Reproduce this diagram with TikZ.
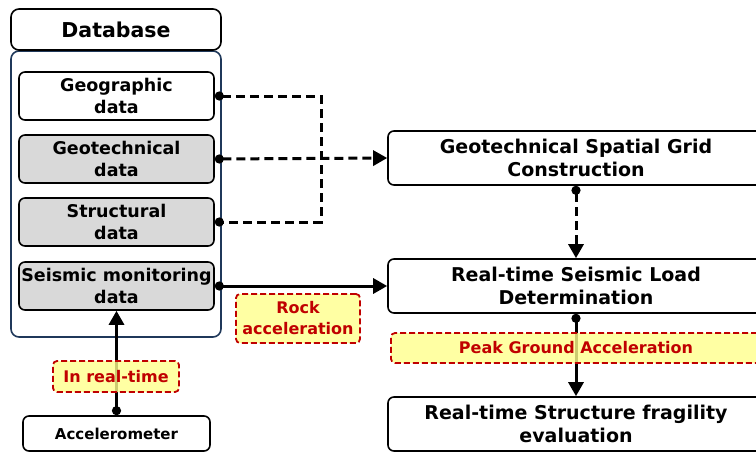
\documentclass[tikz,border=0pt]{standalone}
\usepackage{fontspec}
\setmainfont{DejaVu Sans}
\usetikzlibrary{positioning, arrows.meta}

\definecolor{navy}{RGB}{31,56,90}
\definecolor{cellgray}{RGB}{217,217,217}
\definecolor{tagred}{RGB}{192,0,0}
\definecolor{tagyellow}{RGB}{255,255,140}

\begin{document}
\begin{tikzpicture}[
    x=1pt, y=-1pt,
    font=\bfseries,
    >={Triangle[length=14pt, width=15pt]},
    datbox/.style={rectangle, rounded corners=6pt, draw, line width=1.6pt, align=center,
        minimum width=195pt, minimum height=48pt, inner sep=0pt,
        font=\fontsize{17.5}{21.5}\selectfont\bfseries},
    procbox/.style={rectangle, rounded corners=6pt, draw, line width=1.6pt, align=center,
        fill=white, minimum width=376pt, minimum height=54pt, inner sep=0pt,
        font=\fontsize{19}{23}\selectfont\bfseries},
    tag/.style={rectangle, rounded corners=4pt, draw=tagred, dash pattern=on 6pt off 3pt,
        line width=1.8pt, fill=tagyellow, fill opacity=0.8, text opacity=1, text=tagred,
        align=center, inner sep=0pt, font=\fontsize{16}{21}\selectfont\bfseries},
    flow/.style={line width=3pt, {Circle[length=9pt]}->},
    dashflow/.style={flow, dash pattern=on 9pt off 5pt},
]
\clip (0,0) rectangle (756,453);

% ---- Database column ----
\node[rectangle, rounded corners=8pt, draw=navy, line width=1.6pt,
    minimum width=210pt, minimum height=286pt] (store) at (116,194) {};
\node[rectangle, rounded corners=8pt, draw, line width=1.6pt, fill=white,
    minimum width=210pt, minimum height=41pt,
    font=\fontsize{20.5}{24}\selectfont\bfseries] (dbhead) at (116,29.5) {Database};

\node[datbox, fill=white] (geo) at (116.5,96) {Geographic\\data};
\node[datbox, fill=cellgray] (geotech) at (116.5,159) {Geotechnical\\data};
\node[datbox, fill=cellgray] (struct) at (116.5,222) {Structural\\data};
\node[datbox, fill=cellgray] (seis) at (116.5,286) {Seismic monitoring\\data};

\node[datbox, fill=white, minimum width=187pt, minimum height=35pt,
    font=\fontsize{15}{18}\selectfont\bfseries] (accel) at (116.5,433.5) {Accelerometer};

% ---- Processing steps ----
\node[procbox] (grid) at (576,158) {Geotechnical Spatial Grid\\Construction};
\node[procbox] (load) at (576,286) {Real-time Seismic Load\\Determination};
\node[procbox] (frag) at (576,424) {Real-time Structure fragility\\evaluation};

% ---- Connectors ----
\coordinate (bus) at (321,159);
\draw[dashflow, {Circle[length=9pt]}-{Circle[length=9pt]}] (geo.east) -| (bus) |- (struct.east);
\draw[dashflow] (geotech.east) -- (grid.west);
\draw[dashflow] (grid.south) -- (load.north);
\draw[flow] (seis.east) -- (load.west);
\draw[flow] (accel.north) -- (seis.south);
\draw[flow] (load.south) -- (frag.north);

% ---- Tags ----
\node[tag, minimum width=124pt, minimum height=49pt] (rock) at (298,318.5) {Rock\\acceleration};
\node[tag, minimum width=126pt, minimum height=31pt] (rtime) at (116,376.5) {In real-time};
\node[tag, minimum width=370pt, minimum height=30pt] (pga) at (576,348) {Peak Ground Acceleration};

\end{tikzpicture}
\end{document}
